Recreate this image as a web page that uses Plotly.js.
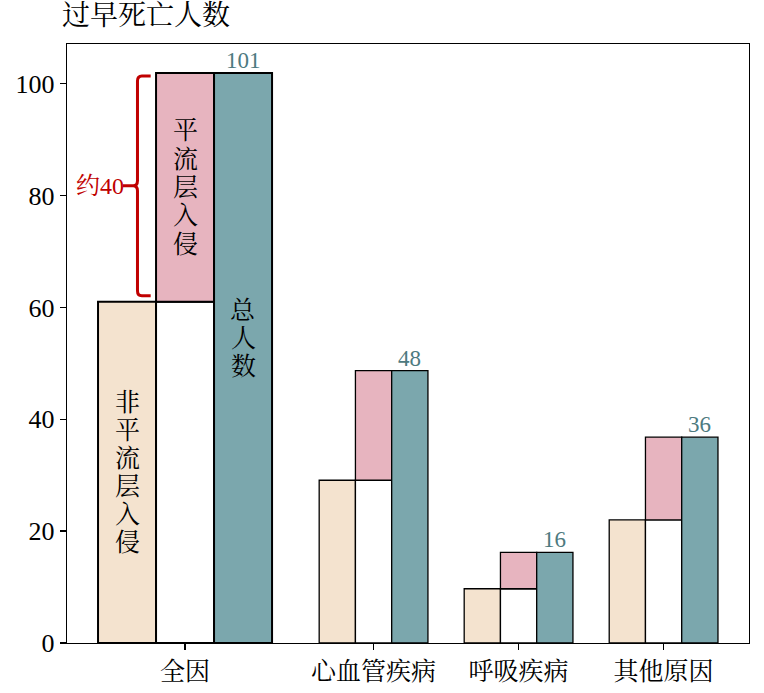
<!DOCTYPE html>
<html>
<head>
<meta charset="utf-8">
<script src="https://cdn.plot.ly/plotly-3.0.1.min.js"></script>
<style>
  body { margin: 0; background: #fff; }
  #chart { width: 764px; height: 693px; }
</style>
</head>
<body>
<div id="chart"></div>
<script>
// data
const categories = ['全因', '心血管疾病', '呼吸疾病', '其他原因'];
const nonStrat = [61, 29.1, 9.7, 22];          // 非平流层入侵
const totals = [101.9, 48.7, 16.2, 36.8];      // 总人数
const totalLabels = ['101', '48', '16', '36'];

const FONT = 'Liberation Serif, Noto Serif CJK SC, Noto Sans CJK SC, serif';
const beige = '#f4e3cf', pink = '#e7b4bf', teal = '#7ba7ad', red = '#c00000';

// group centres and bar widths (first group drawn wider)
const xs = [0, 1.3, 2.3, 3.3];
const widths = [0.4, 0.25, 0.25, 0.25];
const lineW = [2, 1.3, 1.3, 1.3];
const strat = totals.map((t, i) => t - nonStrat[i]);

function barTrace(y, base, slot, color) {
  return {
    type: 'bar',
    x: xs,
    y: y,
    base: base,
    width: widths,
    offset: widths.map(w => (slot - 0.5) * w),
    marker: { color: color, line: { color: '#000', width: lineW } },
    hoverinfo: 'skip'
  };
}

const traces = [
  barTrace(nonStrat, null, -1, beige),
  barTrace(nonStrat, null, 0, '#ffffff'),
  barTrace(strat, nonStrat, 0, pink),
  barTrace(totals, null, 1, teal)
];

const annotations = [];

// vertical text, one character per annotation
function vText(str, x, yMid, size, pitch) {
  const chars = Array.from(str);
  chars.forEach((c, k) => {
    annotations.push({
      x: x, y: yMid, xref: 'x', yref: 'y',
      text: c, showarrow: false,
      yshift: ((chars.length - 1) / 2 - k) * pitch,
      font: { family: FONT, size: size, color: '#000' }
    });
  });
}
vText('非平流层入侵', xs[0] - widths[0], nonStrat[0] / 2, 25, 28);
vText('平流层入侵', xs[0], (nonStrat[0] + totals[0]) / 2, 25, 28.4);
vText('总人数', xs[0] + widths[0], 54.5, 25, 28);

// value labels over the total bars
totals.forEach((t, i) => {
  annotations.push({
    x: xs[i] + widths[i], y: t, xref: 'x', yref: 'y',
    text: totalLabels[i], showarrow: false, yanchor: 'bottom', yshift: -2,
    font: { family: FONT, size: 23, color: '#4d7a80' }
  });
});

// bracket beside the stratospheric segment
const bx = xs[0] - widths[0] / 2 - 0.128;
const hx = xs[0] - widths[0] / 2 - 0.037;
const tx = bx - 0.1;
const yTop = totals[0] - 0.5, yBot = nonStrat[0] + 1.1;
const yMid = (yTop + yBot) / 2;
const rx = 0.03, ry = 0.9;
const bracketPath =
  `M ${hx},${yTop} L ${bx + rx},${yTop} Q ${bx},${yTop} ${bx},${yTop - ry} ` +
  `L ${bx},${yMid + ry} Q ${bx},${yMid} ${bx - rx},${yMid} L ${tx},${yMid} ` +
  `M ${bx - rx},${yMid} Q ${bx},${yMid} ${bx},${yMid - ry} ` +
  `L ${bx},${yBot + ry} Q ${bx},${yBot} ${bx + rx},${yBot} L ${hx},${yBot}`;

annotations.push({
  x: tx, y: yMid, xref: 'x', yref: 'y', xanchor: 'right',
  text: '约40', showarrow: false, xshift: 3,
  font: { family: FONT, size: 24, color: red }
});

const layout = {
  width: 764,
  height: 693,
  margin: { l: 67, r: 15, t: 44, b: 50 },
  paper_bgcolor: '#fff',
  plot_bgcolor: '#fff',
  showlegend: false,
  barmode: 'overlay',
  font: { family: FONT, size: 24, color: '#000' },
  title: {
    text: '过早死亡人数',
    x: 0, xref: 'paper', xanchor: 'left',
    y: 1, yref: 'container', yanchor: 'top', pad: { t: 5, l: -5 },
    font: { family: FONT, size: 28, color: '#000' }
  },
  xaxis: {
    range: [-0.814, 3.889],
    tickvals: xs,
    ticktext: categories,
    ticks: 'outside', ticklen: 6, tickwidth: 1.3, tickcolor: '#000',
    showline: true, mirror: true, linecolor: '#000', linewidth: 1.3,
    showgrid: false, zeroline: false,
    tickfont: { family: FONT, size: 25 }
  },
  yaxis: {
    range: [0, 107.1],
    tickvals: [0, 20, 40, 60, 80, 100],
    ticks: 'outside', ticklen: 6, tickwidth: 1.3, tickcolor: '#000',
    showline: true, mirror: true, linecolor: '#000', linewidth: 1.3,
    showgrid: false, zeroline: false,
    tickfont: { family: FONT, size: 26 }
  },
  shapes: [{
    type: 'path', xref: 'x', yref: 'y', path: bracketPath,
    line: { color: red, width: 3 }
  }],
  annotations: annotations
};

Plotly.newPlot('chart', traces, layout, { displayModeBar: false, staticPlot: true });
</script>
</body>
</html>
